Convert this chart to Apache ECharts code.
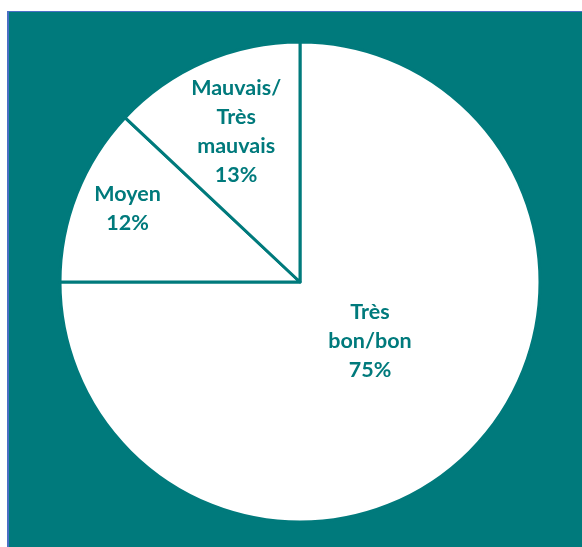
<!DOCTYPE html>
<html><head><meta charset="utf-8">
<script src="https://cdn.jsdelivr.net/npm/echarts@6/dist/echarts.min.js"></script>
<style>
html,body{margin:0;padding:0;background:#fff;width:582px;height:547px;overflow:hidden;}
#bg{position:absolute;left:7px;top:11px;width:575px;height:536px;background:#007A7C;border-left:2px solid #4A6FC4;border-top:1px solid #4A6FC4;box-sizing:border-box;}
#c{position:absolute;left:0;top:0;width:582px;height:547px;}
</style></head>
<body><div id="bg"></div><div id="c"></div>
<script>
const categories = ['Très\nbon/bon', 'Moyen', 'Mauvais/\nTrès\nmauvais'];
const values = [75, 12, 13];
const labelOffsets = [[-17, -28], [-58, -28], [-15, -38]];
const teal = '#007A7C';
const chart = echarts.init(document.getElementById('c'), null, {renderer: 'canvas'});
chart.setOption({
  backgroundColor: 'transparent',
  animation: false,
  series: [{
    type: 'pie',
    center: [300, 282],
    radius: 240,
    startAngle: 90,
    clockwise: true,
    itemStyle: {color: '#fff', borderColor: teal, borderWidth: 3},
    label: {
      position: 'inside',
      color: teal,
      fontFamily: 'Lato',
      fontWeight: 'bold',
      fontSize: 21.5,
      lineHeight: 29,
      align: 'center',
      formatter: p => p.name + '\n' + p.value + '%'
    },
    labelLine: {show: false},
    emphasis: {disabled: true},
    data: categories.map((n, i) => ({name: n, value: values[i], label: {offset: labelOffsets[i]}}))
  }]
});
</script></body></html>
